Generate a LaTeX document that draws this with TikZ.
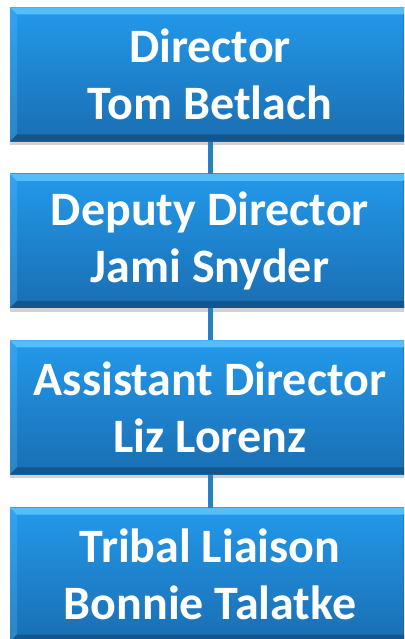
\documentclass[tikz,border=0pt]{standalone}
\usepackage{fontspec}
\setmainfont{Carlito}
\usetikzlibrary{positioning,shadows}

\definecolor{boxtop}{RGB}{35,153,235}
\definecolor{boxbottom}{RGB}{26,110,178}
\definecolor{bevellight}{RGB}{95,200,255}
\definecolor{beveldark}{RGB}{18,80,132}
\definecolor{linkblue}{RGB}{40,128,196}

\tikzset{
  post/.style={rectangle, minimum width=400pt, minimum height=134pt, inner sep=0pt,
    top color=boxtop, bottom color=boxbottom, text=white, align=center,
    font=\fontsize{48}{57}\selectfont\bfseries,
    drop shadow={shadow xshift=0pt, shadow yshift=-4pt, opacity=0.35},
    path picture={
      \coordinate (nw) at (path picture bounding box.north west);
      \coordinate (ne) at (path picture bounding box.north east);
      \coordinate (sw) at (path picture bounding box.south west);
      \coordinate (se) at (path picture bounding box.south east);
      % bevel edges
      \fill[bevellight, opacity=0.8] (nw) -- (ne) -- ([shift={(-7pt,-7pt)}]ne) -- ([shift={(7pt,-7pt)}]nw) -- cycle;
      \fill[bevellight, opacity=0.25] (nw) -- ([shift={(7pt,-7pt)}]nw) -- ([shift={(7pt,7pt)}]sw) -- (sw) -- cycle;
      \fill[beveldark, opacity=0.8] (sw) -- (se) -- ([shift={(-7pt,7pt)}]se) -- ([shift={(7pt,7pt)}]sw) -- cycle;
      \fill[beveldark, opacity=0.3] (ne) -- ([shift={(-7pt,-7pt)}]ne) -- ([shift={(-7pt,7pt)}]se) -- (se) -- cycle;
    }},
  link/.style={draw=linkblue, line width=5pt}
}

\begin{document}
\begin{tikzpicture}
\useasboundingbox (0,0) rectangle (404pt,-639pt);
\clip (0,0) rectangle (404pt,-639pt);
\fill[white] (0,0) rectangle (404pt,-639pt);

%boxes
\node[post] (director) at (210pt,-74.5pt) {Director\\Tom Betlach};
\node[post, below=32pt of director] (deputy) {Deputy Director\\Jami Snyder};
\node[post, below=32pt of deputy] (assistant) {Assistant Director\\Liz Lorenz};
\node[post, below=33pt of assistant] (liaison) {Tribal Liaison\\Bonnie Talatke};

%links
\draw[link] (director.south) -- (deputy.north);
\draw[link] (deputy.south) -- (assistant.north);
\draw[link] (assistant.south) -- (liaison.north);
\end{tikzpicture}
\end{document}
